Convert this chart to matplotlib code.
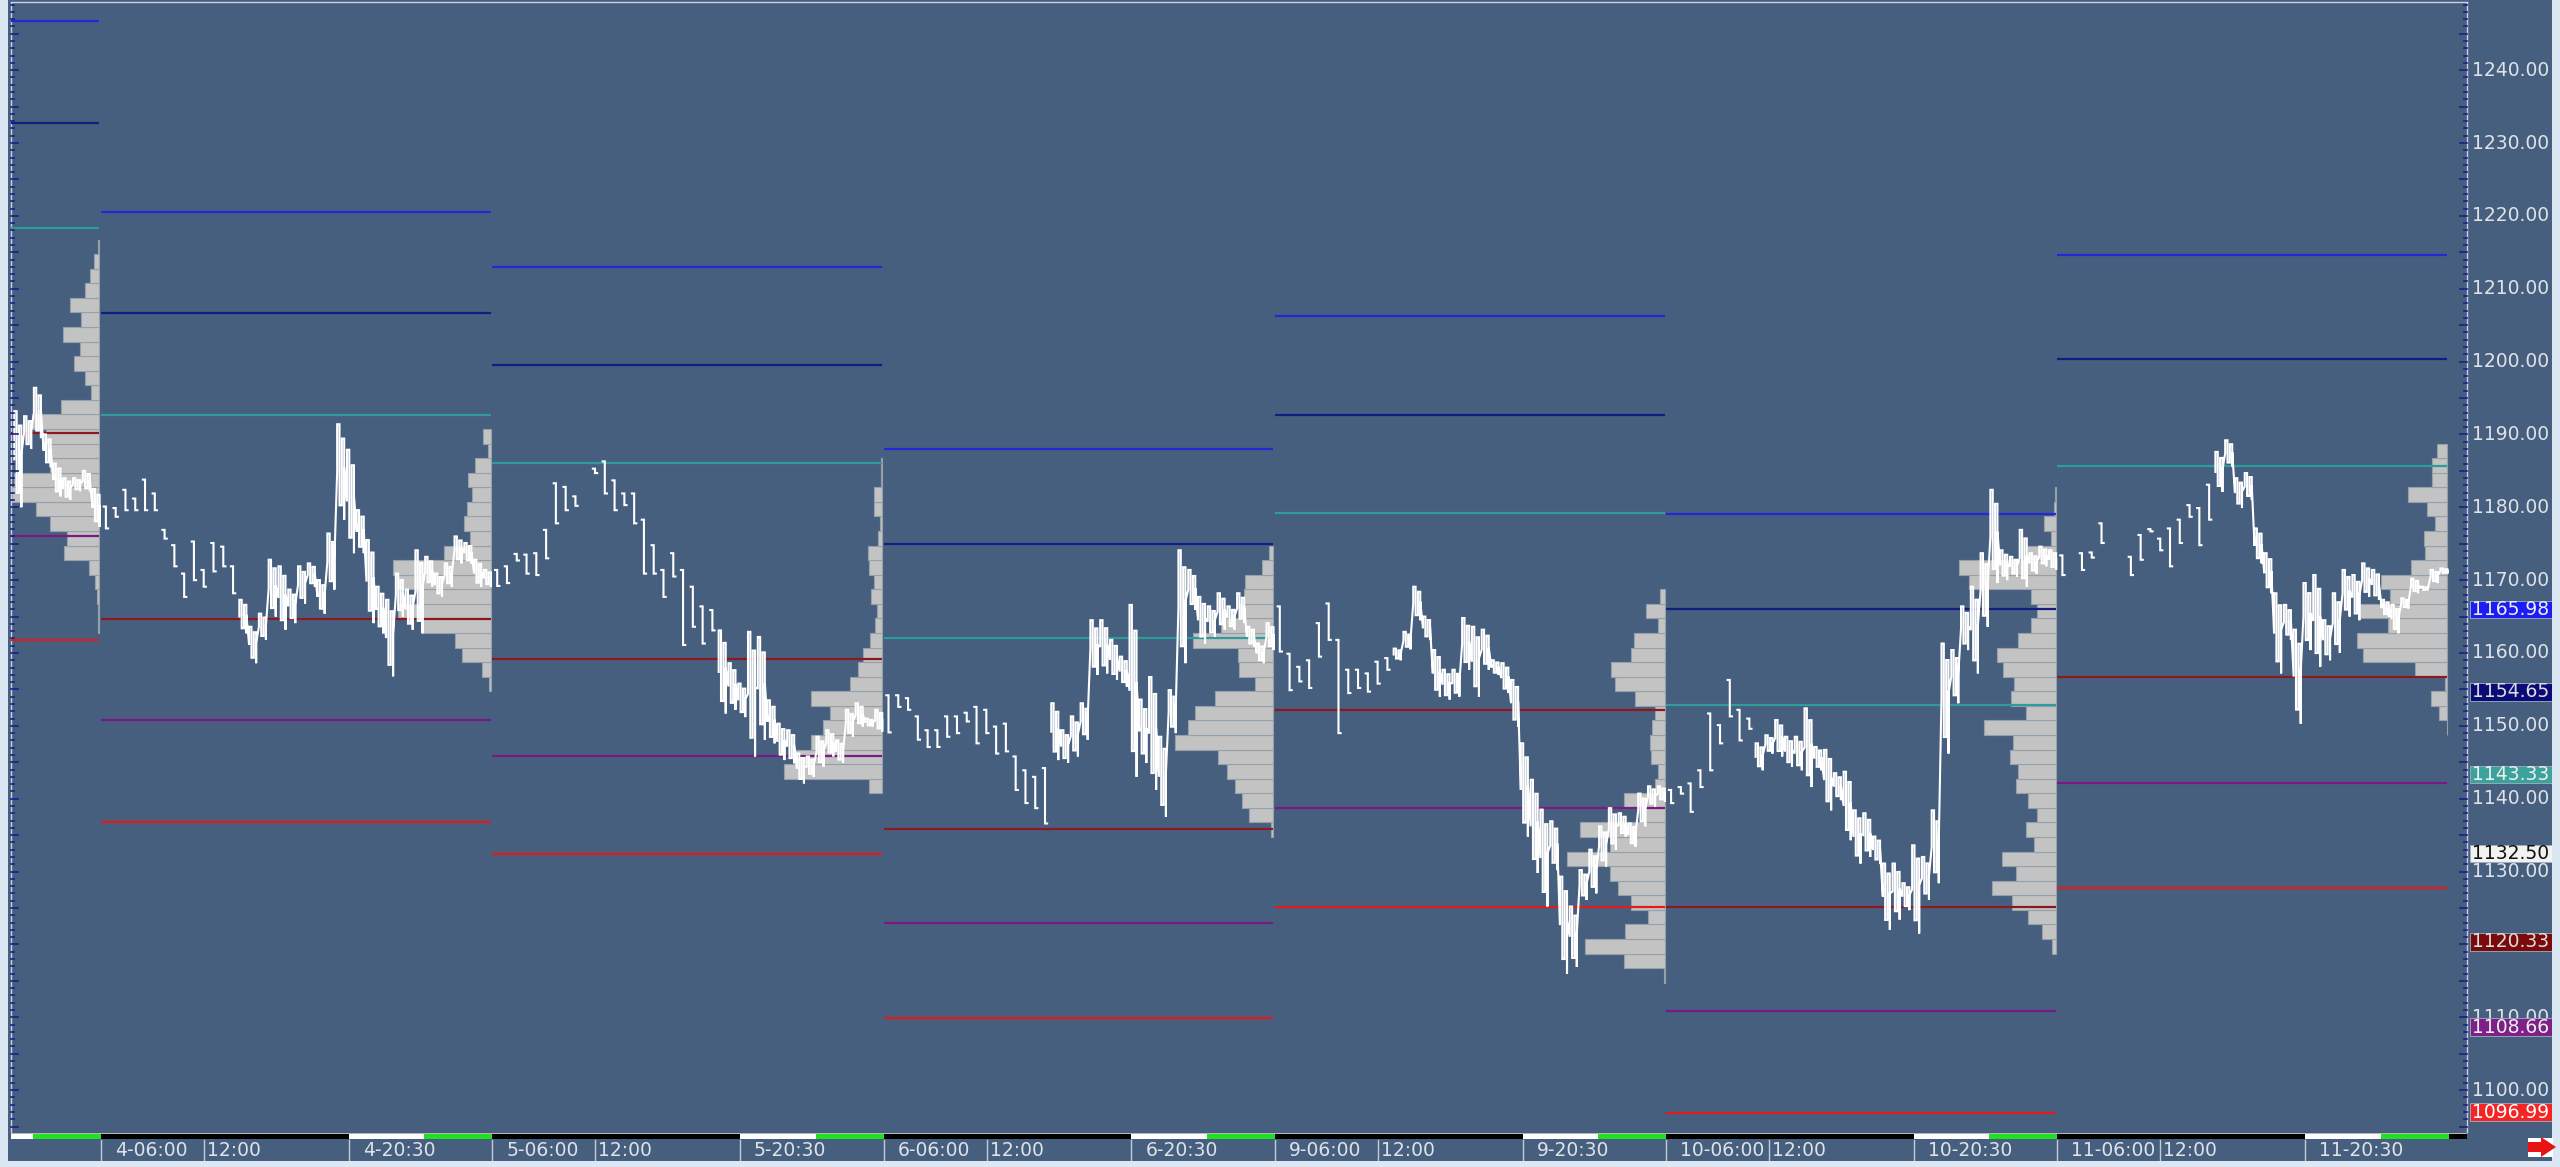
import numpy as np
import matplotlib
matplotlib.use("Agg")
import matplotlib.pyplot as plt
from matplotlib.patches import Rectangle, Polygon

W, H = 2560, 1167
plt.rcParams['font.family'] = ['DejaVu Sans']

# ---------------- data ----------------
day_labels = ["4", "5", "6", "9", "10", "11"]
session_ids = [-1, 0, 1, 2, 3, 4, 5]          # -1 = day 3 (partial, left edge)

# pivot style levels per session (R2, R1, PP, S1, S2, S3)
lvl_r2 = [1246.7, 1220.6, 1213.0, 1188.0, 1206.2, 1179.1, 1214.7]
lvl_r1 = [1232.7, 1206.7, 1199.6, 1175.0, 1192.7, 1166.0, 1200.3]
lvl_pp = [1218.4, 1192.7, 1186.1, 1162.0, 1179.2, 1152.8, 1185.7]
lvl_s1 = [1190.2, 1164.7, 1159.2, 1135.9, 1152.2, 1125.2, 1156.75]
lvl_s2 = [1176.0, 1150.8, 1145.8, 1122.9, 1138.7, 1110.8, 1142.1]
lvl_s3 = [1161.8, 1136.8, 1132.4, 1109.9, 1125.2, 1096.8, 1127.7]

# price bars: 40 samples per session (high / low)
hi_d3 = [1193.2, 1192.5, 1196.4, 1190.0, 1186.0, 1184.0, 1184.0, 1185.0, 1182.5]
lo_d3 = [1180.0, 1188.0, 1189.5, 1185.5, 1181.5, 1181.0, 1182.2, 1182.2, 1177.3]
start_d3 = 31

hi_d4 = [1180.1, 1179.9, 1182.4, 1181.2, 1183.8, 1181.9, 1176.9, 1174.8, 1170.9, 1175.3,
         1171.4, 1175.1, 1174.6, 1171.9, 1167.3, 1163.6, 1165.4, 1172.8, 1171.9, 1168.7,
         1171.9, 1172.3, 1170.0, 1176.4, 1191.4, 1187.9, 1179.6, 1175.5, 1169.1, 1167.3,
         1170.9, 1168.7, 1174.1, 1173.2, 1170.9, 1172.3, 1176.0, 1175.1, 1172.8, 1171.4]
lo_d4 = [1177.1, 1178.7, 1179.6, 1179.6, 1179.6, 1179.6, 1175.7, 1171.9, 1167.7, 1170.0,
         1169.1, 1171.2, 1171.9, 1168.2, 1162.7, 1158.6, 1161.8, 1165.0, 1163.2, 1164.1,
         1166.8, 1169.1, 1165.4, 1168.7, 1178.3, 1173.7, 1173.7, 1164.1, 1162.7, 1156.8,
         1165.0, 1163.2, 1162.7, 1169.1, 1167.7, 1169.1, 1172.3, 1172.3, 1169.1, 1169.1]

hi_d5 = [1171.4, 1171.9, 1173.6, 1173.5, 1173.7, 1176.9, 1183.3, 1182.8, 1181.5, None,
         1185.3, 1186.3, 1183.7, 1181.9, 1181.9, 1178.3, 1174.8, 1171.4, 1173.7, 1171.4,
         1169.1, 1166.4, 1165.9, 1163.1, 1158.6, 1155.8, 1162.9, 1162.2, 1153.5, 1150.3,
         1149.4, 1146.2, 1145.8, 1148.5, 1149.4, 1148.0, 1152.2, 1153.1, 1151.0, 1152.2]
lo_d5 = [1169.2, 1169.6, 1172.7, 1170.9, 1170.7, 1173.0, 1177.8, 1179.6, 1180.2, None,
         1184.7, 1181.9, 1179.6, 1180.3, 1177.8, 1170.9, 1170.9, 1167.7, 1170.5, 1161.1,
         1163.6, 1161.3, 1163.1, 1151.7, 1152.2, 1151.2, 1145.8, 1148.1, 1147.6, 1145.3,
         1144.9, 1142.1, 1143.0, 1144.4, 1145.8, 1144.9, 1148.5, 1149.9, 1149.9, 1149.2]

hi_d6 = [1154.2, 1154.2, 1153.8, 1151.3, 1149.4, 1149.4, 1151.3, 1151.3, 1151.8, 1152.6,
         1152.2, 1149.9, 1150.3, 1145.8, 1143.9, 1143.0, 1144.2, 1153.1, 1149.4, 1151.3,
         1153.1, 1164.5, 1164.5, 1161.8, 1159.5, 1166.6, 1153.6, 1156.7, 1148.5, 1154.9,
         1174.1, 1171.4, 1167.7, 1166.4, 1168.2, 1166.4, 1168.2, 1163.6, 1161.3, 1164.1]
lo_d6 = [1149.1, 1152.6, 1152.2, 1148.1, 1147.1, 1147.1, 1148.5, 1149.0, 1150.6, 1147.6,
         1149.0, 1146.2, 1146.5, 1141.2, 1139.4, 1138.7, 1136.6, 1145.3, 1144.9, 1145.8,
         1148.1, 1157.0, 1157.2, 1156.3, 1155.4, 1143.0, 1144.9, 1141.2, 1137.5, 1149.0,
         1158.6, 1165.9, 1161.3, 1162.2, 1163.2, 1163.2, 1164.1, 1160.9, 1158.6, 1160.4]

hi_d9 = [1166.4, 1159.9, 1158.1, 1159.0, 1164.1, 1166.8, 1161.8, 1157.7, 1157.7, 1157.2,
         1158.8, 1159.3, 1160.6, 1162.9, 1169.1, 1165.0, 1160.4, 1157.7, 1157.7, 1164.8,
         1163.6, 1163.2, 1159.0, 1158.6, 1156.3, 1147.6, 1142.6, 1138.5, 1136.9, 1129.3,
         1125.2, 1130.2, 1133.0, 1136.2, 1138.7, 1138.0, 1136.6, 1140.7, 1141.7, 1141.7]
lo_d9 = [1160.2, 1154.9, 1156.1, 1155.2, 1159.5, 1161.8, 1149.0, 1154.5, 1155.2, 1154.7,
         1155.8, 1157.7, 1159.0, 1160.5, 1164.5, 1161.8, 1154.0, 1153.6, 1154.0, 1157.7,
         1154.0, 1157.7, 1157.0, 1154.5, 1149.9, 1134.8, 1129.8, 1125.2, 1130.2, 1116.0,
         1116.9, 1126.1, 1127.0, 1130.7, 1133.0, 1134.8, 1133.4, 1136.2, 1138.9, 1139.6]

hi_d10 = [1141.2, 1141.6, 1142.1, 1143.9, 1151.7, 1150.1, 1156.3, 1152.2, 1151.0, 1147.6,
          1148.7, 1150.8, 1148.5, 1148.5, 1152.4, 1147.1, 1146.7, 1143.5, 1143.7, 1138.4,
          1138.0, 1134.8, 1131.1, 1131.1, 1128.4, 1133.6, 1132.0, 1138.4, 1161.3, 1160.4,
          1166.4, 1169.1, 1173.7, 1182.4, 1174.1, 1173.2, 1176.9, 1173.7, 1174.6, 1174.1]
lo_d10 = [1139.4, 1140.7, 1138.2, 1141.6, 1143.9, 1147.6, 1151.3, 1148.0, 1149.6, 1143.9,
          1146.2, 1145.8, 1144.4, 1143.9, 1141.6, 1143.9, 1138.4, 1139.8, 1134.3, 1131.1,
          1132.0, 1131.1, 1122.0, 1123.4, 1124.7, 1121.5, 1126.1, 1128.4, 1146.2, 1153.1,
          1160.4, 1157.2, 1163.6, 1169.6, 1170.0, 1170.5, 1169.1, 1170.9, 1171.9, 1171.4]

hi_d11 = [1173.4, None, 1173.7, 1173.8, 1177.8, None, None, 1173.2, 1176.2, 1177.0,
          1175.7, 1177.1, 1178.3, 1180.3, 1179.9, 1183.1, 1187.6, 1189.2, 1184.0, 1184.7,
          1177.1, 1173.7, 1168.2, 1166.6, 1163.2, 1169.6, 1170.7, 1164.5, 1168.2, 1171.4,
          1170.7, 1172.3, 1171.4, 1167.3, 1166.6, 1167.5, 1170.2, 1169.1, 1171.4, 1171.6]
lo_d11 = [1170.7, None, 1171.4, 1173.1, 1175.1, None, None, 1170.7, 1172.8, 1176.7,
          1174.1, 1171.9, 1175.1, 1178.7, 1174.8, 1178.3, 1182.1, 1185.6, 1179.9, 1181.0,
          1172.3, 1168.2, 1157.2, 1161.8, 1150.3, 1160.4, 1158.1, 1159.0, 1160.0, 1165.0,
          1164.5, 1167.7, 1167.3, 1165.0, 1162.7, 1166.1, 1168.2, 1168.6, 1169.6, 1170.9]

# number of thinly traded (sparse) samples at the start of each session
sparse_counts = [0, 14, 23, 17, 12, 9, 16]

# volume profiles: lowest bin edge and volume per 2-point bin (bottom -> top)
prof_base = [1162.75, 1154.75, 1140.75, 1134.75, 1114.75, 1118.75, 1148.75]
prof_d3 = [1, 1, 2, 4, 10, 35, 32, 49, 63, 87, 85, 49, 51, 53, 67, 38, 8, 14, 25, 19,
           36, 18, 29, 14, 9.3, 5, 1.7]
prof_d4 = [1.7, 8.3, 28.3, 35.7, 68.3, 92.3, 68.3, 93.3, 97.3, 46.7, 20.7, 26.7, 24,
           18.3, 22.7, 15.7, 2.7, 7.3]
prof_d5 = [12.7, 97.7, 89.3, 71, 59.3, 52, 71, 32.3, 23.7, 19.3, 12.3, 7, 5, 11, 8.3,
           12.7, 13.7, 3.7, 2.3, 8.3, 8.3, 1, 1]
prof_d6 = [2.3, 24, 31.3, 38.3, 46.7, 55.3, 98, 85, 78, 58, 18.3, 34, 35, 80.7, 52.3,
           34, 29.7, 28.3, 11.3, 4.7]
prof_d9 = [1, 41, 79.3, 39.3, 16.7, 34, 46.7, 55, 97.7, 55, 85, 20, 41, 10, 6.7, 14,
           15, 12.3, 9.3, 29.3, 49.3, 53.3, 34, 31, 6.7, 18.3, 5]
prof_d10 = [4.3, 13.7, 27.7, 44.3, 64.3, 40.3, 54.3, 21.7, 30.3, 19.3, 27.7, 40.3, 37.7,
            46, 43.3, 71.7, 30.3, 45, 42, 53.3, 58.7, 37.7, 25, 19.3, 25, 87, 97, 29.3,
            5, 12, 2, 1]
prof_d11 = [0.7, 8, 16.3, 2.3, 32.3, 84.7, 90, 59, 87.3, 57, 66.3, 36.3, 22.3, 23.3,
            12.3, 20.7, 39.7, 15, 15.7, 10.7]

price_ticks = list(range(1100, 1250, 10))
marker_values = [1165.98, 1154.65, 1143.33, 1132.50, 1120.33, 1108.66, 1096.99]
marker_face = ['#1c1cf5', '#0b0b78', '#3ba39b', '#f2f2f2', '#7a0b0b', '#7f1f88', '#f52525']
marker_text = ['#eeeeee', '#dddddd', '#eeeeee', '#111111', '#dddddd', '#eeeeee', '#ffffff']

# ---------------- styling ----------------
SLATE = '#475f7f'
FRAME = '#dbe7f3'
LVL_COLORS = ['#2626d8', '#141c84', '#2f9c9c', '#8c1820', '#7a1a82', '#e01c1c']
PX_PER_SESSION = 391.3
SAMPLES = 40
FS = 13.5


def fx(x):
    return x / W


def fy(y):
    return 1 - y / H


fig = plt.figure(figsize=(W / 100, H / 100), dpi=100, facecolor=FRAME)
fig.add_artist(Rectangle((fx(8), fy(1161)), (2552 - 8) / W, 1161 / H,
                         transform=fig.transFigure, facecolor=SLATE,
                         edgecolor='none', zorder=0))

x_left = (11 - 101) / PX_PER_SESSION
x_right = (2467 - 101) / PX_PER_SESSION
y_bot = 1240 - (1132 - 70.2) / 7.285
y_top = 1240 + (70.2 - 2) / 7.285

ax = fig.add_axes([fx(11), fy(1132), (2467 - 11) / W, (1132 - 2) / H])
ax.set_facecolor(SLATE)
ax.set_xlim(x_left, x_right)
ax.set_ylim(y_bot, y_top)
ax.set_xticks([])
ax.set_yticks([])
for side in ['left', 'top', 'right']:
    ax.spines[side].set_color('#c9d3de')
    ax.spines[side].set_linewidth(1.0)
ax.spines['bottom'].set_visible(False)

# level lines
levels = [lvl_r2, lvl_r1, lvl_pp, lvl_s1, lvl_s2, lvl_s3]
for lv, col in zip(levels, LVL_COLORS):
    for k, s in enumerate(session_ids):
        ax.hlines(lv[k], s, s + 1 - 0.004, color=col, lw=1.6, zorder=3)

# volume profiles
profiles = [prof_d3, prof_d4, prof_d5, prof_d6, prof_d9, prof_d10, prof_d11]
for k, (base, vols) in enumerate(zip(prof_base, profiles)):
    s = session_ids[k]
    right = s + 1 - 0.004
    vols = np.asarray(vols, dtype=float)
    widths = vols / PX_PER_SESSION
    centers = base + 1 + 2 * np.arange(len(vols))
    ax.barh(centers, widths, height=2, left=right - widths, color='#c3c3c3',
            edgecolor='#96a0ab', linewidth=0.8, zorder=2)


# price bars
def build_price(sess, start, hi, lo, n_sparse):
    d = 1.0 / SAMPLES
    X, Y = [], []
    for j, (h, l) in enumerate(zip(hi, lo)):
        i = start + j
        if h is None or l is None:
            X.append(np.nan)
            Y.append(np.nan)
            continue
        xc = sess + (i + 0.5) * d
        r = h - l
        if i < n_sparse:
            X += [xc - 0.22 * d, xc, xc, xc + 0.22 * d, np.nan]
            Y += [h, h, l, l, np.nan]
        else:
            xs = [xc - 0.36 * d, xc - 0.12 * d, xc + 0.12 * d, xc + 0.36 * d]
            ys = [(0.5, 1.0), (1.0, 0.15), (0.3, 0.85), (0.0, 0.55)]
            prev = None
            for xk, (a, b) in zip(xs, ys):
                if prev is not None:
                    X.append(xk)
                    Y.append(prev)
                X += [xk, xk]
                Y += [l + a * r, l + b * r]
                prev = l + b * r
    X.append(np.nan)
    Y.append(np.nan)
    return X, Y


price_sets = [(hi_d3, lo_d3, start_d3), (hi_d4, lo_d4, 0), (hi_d5, lo_d5, 0),
              (hi_d6, lo_d6, 0), (hi_d9, lo_d9, 0), (hi_d10, lo_d10, 0),
              (hi_d11, lo_d11, 0)]
for k, (hi, lo, st) in enumerate(price_sets):
    X, Y = build_price(session_ids[k], st, hi, lo, sparse_counts[k])
    ax.plot(X, Y, color='white', lw=1.5, zorder=4, solid_joinstyle='miter')

# edge ticks (left & right), dark blue
ytf = ax.get_yaxis_transform()
aw = 2467 - 11
for v in np.arange(1095, 1250, 1.0):
    major = (round(v) % 5 == 0)
    L = (7 if major else 3) / aw
    ax.plot([1 - L, 1], [v, v], transform=ytf, color='#1c1c8c', lw=1.2,
            zorder=5, clip_on=False)
    ax.plot([0, L], [v, v], transform=ytf, color='#1c1c8c', lw=1.2,
            zorder=5, clip_on=False)

# ---------------- bottom strip (session bar + time labels) ----------------
axb = fig.add_axes([fx(11), fy(1161), (2467 - 11) / W, (1161 - 1133) / H])
axb.set_xlim(x_left, x_right)
axb.set_ylim(28, 0)
axb.axis('off')
axb.add_patch(Rectangle((x_left, 0), x_right - x_left, 1.2, facecolor='#b5b5b5',
                        edgecolor='none'))
for s in range(-1, 7):
    axb.add_patch(Rectangle((s, 1.2), 0.633, 5, facecolor='#000000', edgecolor='none'))
    axb.add_patch(Rectangle((s + 0.633, 1.2), 0.193, 5, facecolor='#ffffff', edgecolor='none'))
    axb.add_patch(Rectangle((s + 0.826, 1.2), 0.174, 5, facecolor='#22e022', edgecolor='none'))

pad_date = 14 / PX_PER_SESSION
pad_noon = 3 / PX_PER_SESSION
for k, d in enumerate(day_labels):
    for pos, lab, pad in [(k, f"{d}-06:00", pad_date), (k + 0.263, "12:00", pad_noon),
                          (k + 0.633, f"{d}-20:30", pad_date)]:
        axb.plot([pos, pos], [6.5, 27], color='#c4ccd6', lw=1.0)
        axb.text(pos + pad, 17, lab, ha='left', va='center', fontsize=FS,
                 color='#dfe3e8')

# ---------------- right price labels ----------------
axr = fig.add_axes([fx(2467), fy(1132), 85 / W, (1132 - 2) / H])
axr.set_xlim(0, 85)
axr.set_ylim(y_bot, y_top)
axr.axis('off')
for v in price_ticks:
    axr.text(5, v, f"{v:.2f}", ha='left', va='center', fontsize=FS,
             color='#dfe3e8', zorder=2)
hh = 8.8 / 7.285
for v, fc, tc in zip(marker_values, marker_face, marker_text):
    axr.add_patch(Rectangle((3.0, v - hh), 81.5, 2 * hh, facecolor=fc,
                            edgecolor='#9fb0c4', linewidth=0.6, zorder=3))
    axr.text(5, v, f"{v:.2f}", ha='left', va='center', fontsize=FS,
             color=tc, zorder=4)

# little red arrow button bottom-right
fig.add_artist(Rectangle((fx(2528), fy(1157)), 25 / W, 19 / H,
                         transform=fig.transFigure, facecolor='white',
                         edgecolor='none', zorder=5))
arrow = [(2528, 1142), (2541, 1142), (2541, 1137), (2556, 1147), (2541, 1157),
         (2541, 1152), (2528, 1152)]
fig.add_artist(Polygon([(fx(x), fy(y)) for x, y in arrow], closed=True,
                       transform=fig.transFigure, facecolor='#e81414',
                       edgecolor='none', zorder=6))

fig.savefig('out.png', dpi=100, facecolor=FRAME)
